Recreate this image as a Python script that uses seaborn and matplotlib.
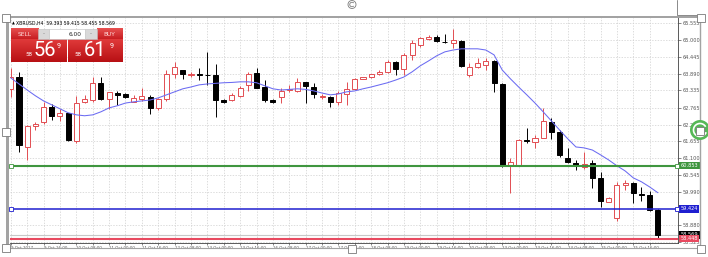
import numpy as np
import pandas as pd
import matplotlib
matplotlib.use("Agg")
import matplotlib.pyplot as plt
from matplotlib.patches import Rectangle, Circle, Arc
from matplotlib.colors import to_rgb
import matplotlib.transforms as mtransforms
import seaborn as sns

# ---------------- data ----------------
opens = [63.39, 63.79, 61.48, 62.17, 62.31, 62.79, 62.50, 62.58, 61.67, 62.97,
         63.02, 63.57, 63.06, 63.25, 63.21, 62.97, 63.06, 63.11, 62.75, 63.06,
         63.87, 64.00, 63.85, 63.88, 63.85, 63.85, 63.01, 63.02, 63.16, 63.50,
         63.92, 63.44, 63.01, 63.11, 63.34, 63.33, 63.60, 63.46, 63.12, 63.13,
         62.97, 63.22, 63.39, 63.72, 63.77, 63.88, 63.94, 64.29, 64.05, 64.51,
         64.84, 65.05, 65.09, 64.95, 64.89, 64.98, 63.85, 64.12, 64.18, 64.31,
         63.55, 60.85, 60.88, 61.70, 61.65, 61.76, 62.31, 61.96, 61.12, 60.95,
         60.82, 60.93, 60.44, 59.65, 59.12, 60.20, 60.27, 59.91, 59.87, 59.393]
highs = [64.07, 63.94, 62.20, 62.31, 62.95, 62.88, 62.73, 62.60, 63.16, 63.17,
         63.77, 63.79, 63.28, 63.32, 63.25, 63.19, 63.43, 63.19, 63.08, 64.01,
         64.29, 64.01, 63.96, 64.09, 64.62, 64.20, 63.06, 63.25, 63.49, 63.94,
         64.07, 63.68, 63.06, 63.41, 63.52, 63.74, 63.63, 63.57, 63.21, 63.16,
         63.32, 63.63, 63.76, 63.79, 63.88, 64.01, 64.34, 64.31, 64.57, 65.00,
         65.11, 65.15, 65.17, 65.19, 65.37, 65.00, 64.23, 64.40, 64.42, 64.34,
         63.57, 61.10, 61.74, 62.09, 61.85, 62.75, 62.42, 62.03, 61.43, 61.04,
         61.32, 61.04, 60.66, 59.83, 60.33, 60.38, 60.33, 60.16, 60.00, 59.415]
lows = [63.13, 61.32, 61.04, 62.03, 62.22, 62.35, 62.33, 61.67, 61.61, 62.91,
        62.97, 63.02, 62.73, 62.84, 63.08, 62.95, 62.99, 62.55, 62.69, 62.99,
        63.74, 63.72, 63.77, 63.68, 63.52, 62.47, 62.91, 62.99, 63.13, 63.32,
        63.43, 62.95, 62.91, 62.91, 63.27, 63.28, 62.91, 63.08, 63.06, 62.80,
        62.86, 62.86, 63.35, 63.72, 63.76, 63.85, 63.90, 63.85, 63.85, 64.34,
        64.78, 65.00, 64.95, 64.91, 64.73, 64.12, 63.79, 64.07, 64.01, 63.28,
        60.82, 59.94, 60.87, 61.59, 61.43, 61.75, 61.74, 61.15, 60.95, 60.71,
        60.75, 60.11, 59.50, 59.64, 59.01, 60.05, 59.61, 59.67, 59.34, 58.455]
closes = [63.79, 61.52, 62.17, 62.24, 62.78, 62.50, 62.60, 61.69, 62.91, 63.05,
          63.57, 63.05, 63.28, 63.18, 63.12, 63.10, 63.16, 62.77, 63.05, 63.87,
          64.10, 63.87, 63.89, 63.86, 63.83, 63.02, 62.96, 63.17, 63.43, 63.89,
          63.43, 63.01, 62.97, 63.32, 63.39, 63.60, 63.49, 63.21, 63.15, 62.97,
          63.25, 63.39, 63.72, 63.78, 63.88, 63.96, 64.29, 64.05, 64.51, 64.89,
          65.06, 65.09, 64.96, 64.92, 65.00, 64.14, 64.12, 64.23, 64.31, 63.57,
          60.85, 60.99, 61.70, 61.67, 61.78, 62.33, 61.98, 61.19, 60.97, 60.86,
          60.90, 60.44, 59.67, 59.80, 60.22, 60.29, 59.94, 59.88, 59.39, 58.569]
ma = [63.75, 63.55, 63.35, 63.16, 62.99, 62.86, 62.73, 62.60, 62.53, 62.50,
      62.53, 62.63, 62.76, 62.83, 62.92, 62.96, 62.99, 63.02, 63.09, 63.19,
      63.29, 63.39, 63.45, 63.52, 63.55, 63.57, 63.59, 63.60, 63.62, 63.62,
      63.59, 63.49, 63.39, 63.35, 63.37, 63.39, 63.37, 63.32, 63.25, 63.19,
      63.22, 63.29, 63.32, 63.39, 63.45, 63.52, 63.59, 63.68, 63.78, 63.95,
      64.15, 64.31, 64.48, 64.61, 64.67, 64.71, 64.71, 64.71, 64.67, 64.51,
      64.01, 63.72, 63.45, 63.19, 62.92, 62.63, 62.33, 62.03, 61.74, 61.47,
      61.44, 61.37, 61.21, 61.04, 60.85, 60.68, 60.45, 60.32, 60.15, 59.96]
price_ticks = [65.555, 65.000, 64.445, 63.890, 63.335, 62.765, 62.210,
               61.655, 61.100, 60.545, 59.990, 58.880, 58.325]
time_labels = ["9 Oct 2017", "9 Oct 16:00", "10 Oct 08:00", "11 Oct 00:00",
               "11 Oct 16:00", "12 Oct 08:00", "13 Oct 00:00", "13 Oct 16:00",
               "16 Oct 08:00", "17 Oct 00:00", "17 Oct 16:00", "18 Oct 08:00",
               "19 Oct 00:00", "19 Oct 16:00", "20 Oct 08:00", "23 Oct 00:00",
               "23 Oct 16:00", "24 Oct 08:00", "25 Oct 00:00", "25 Oct 16:00"]
level_green = 60.853
level_blue = 59.424
level_red = 58.448
last_price = 58.569
header = "XBRUSD,H4  59.393 59.415 58.455 58.569"
lot_size = "6.00"
sell_parts = ("58", "56", "9")
buy_parts = ("58", "61", "9")

# ---------------- style ----------------
sns.set_theme(style="white")
plt.rcParams["font.family"] = ["DejaVu Sans"]

W, H = 708, 257
fig = plt.figure(figsize=(W / 100, H / 100), dpi=100)
fig.patch.set_facecolor("white")

ax = fig.add_axes([10 / W, 1 - 243 / H, 668 / W, 226 / H])
ax.set_facecolor("white")

df = pd.DataFrame({"i": np.arange(len(opens)), "open": opens, "high": highs,
                   "low": lows, "close": closes, "ma": ma})
up = df["close"] >= df["open"]
red_c = "#e24d52"

# wicks
ax.vlines(df["i"][up], df["low"][up], df["high"][up], colors=red_c, lw=0.7, zorder=2)
ax.vlines(df["i"][~up], df["low"][~up], df["high"][~up], colors="black", lw=0.7, zorder=2)
# bodies
lo = np.minimum(df["open"], df["close"])
hgt = np.maximum((df["close"] - df["open"]).abs(), 0.012)
ax.bar(df["i"][up], hgt[up], bottom=lo[up], width=0.62, facecolor="white",
       edgecolor=red_c, linewidth=0.7, zorder=3)
ax.bar(df["i"][~up], hgt[~up], bottom=lo[~up], width=0.62, facecolor="black",
       edgecolor="black", linewidth=0.7, zorder=3)

# moving average
sns.lineplot(data=df, x="i", y="ma", ax=ax, color="#6b6bf2", lw=0.75, zorder=4)

# horizontal levels
ax.axhline(last_price, color="#c8c8c8", lw=0.8, zorder=1.5)
ax.axhline(level_green, color="#3f963f", lw=1.5, zorder=5)
ax.axhline(level_blue, color="#1f1fd0", lw=1.1, zorder=5)
ax.axhline(level_red, color="#e84a60", lw=1.5, zorder=5)

ax.set_xlim(-0.1, 81.46)
ax.set_ylim(58.30, 65.76)
ax.set_xlabel("")
ax.set_ylabel("")

# grid and ticks
xt = np.arange(0, 80, 2)
ax.set_xticks(xt)
ax.set_xticklabels([time_labels[k // 4] if k % 4 == 0 else "" for k in xt],
                   fontsize=2.9, color="#555555", ha="left")
ax.yaxis.tick_right()
ax.set_yticks(price_ticks)
ax.set_yticklabels([f"{v:.3f}" for v in price_ticks], fontsize=3.6, color="#555555")
ax.tick_params(axis="y", which="both", right=True, length=2, width=0.5, pad=1, colors="#555555")
ax.tick_params(axis="x", which="both", bottom=True, length=1.5, width=0.5, pad=0.6, colors="#555555")
ax.grid(True, color="#cfcfcf", linestyle=(0, (2, 2)), lw=0.5)
ax.set_axisbelow(True)
for s in ["left", "top"]:
    ax.spines[s].set_visible(False)
for s in ["right", "bottom"]:
    ax.spines[s].set_color("#404040")
    ax.spines[s].set_linewidth(0.6)

# price labels of the levels
bt = mtransforms.blended_transform_factory(ax.transAxes, ax.transData)
for val, col in [(level_green, "#3f963f"), (level_blue, "#1f1fd0"),
                 (last_price, "black"), (level_red, "#e84a60")]:
    ax.text(1.004, val, f"{val:.3f}", transform=bt, fontsize=3.6, color="white",
            va="center", ha="left", clip_on=False, zorder=7,
            bbox=dict(boxstyle="square,pad=0.25", fc=col, ec="none"))
# small end handles on selected lines
for val, col in [(level_green, "#3f963f"), (level_blue, "#1f1fd0")]:
    ax.plot([0.002, 0.999], [val, val], transform=bt, ls="none", marker="s",
            markersize=2.2, mfc="white", mec=col, mew=0.6, clip_on=False, zorder=8)

# ---------------- overlay (frame, panel, handles) ----------------
ov = fig.add_axes([0, 0, 1, 1])
ov.set_xlim(0, W)
ov.set_ylim(H, 0)
ov.axis("off")
ov.patch.set_visible(False)
ov.set_zorder(10)

frame = "#a3a3a3"
ov.add_patch(Rectangle((6, 16), 3, 232, color=frame, lw=0))
ov.add_patch(Rectangle((6, 15.8), 695, 2.4, color=frame, lw=0))
ov.plot([700, 700], [17, 248], color=frame, lw=1)
ov.plot([6, 700], [247.6, 247.6], color=frame, lw=0.8)
ov.plot([676.7, 676.7, 697], [0, 14.5, 14.5], color="#8a8a8a", lw=0.7)

# header
ov.text(11.5, 23.3, "\u25b2", fontsize=2.6, color="black", va="center", ha="left")
ov.text(16.5, 23.3, header, fontsize=3.3, color="black", va="center", ha="left")


def grad_box(x0, y0, x1, y1, c_top, c_bot):
    t = np.linspace(0, 1, 32)[:, None]
    img = (np.array(to_rgb(c_top)) * (1 - t) + np.array(to_rgb(c_bot)) * t)[:, None, :]
    ov.imshow(img, extent=(x0, x1, y1, y0), aspect="auto",
              interpolation="bilinear", zorder=5)


# one-click panel
grad_box(11, 28.7, 38.3, 39.3, "#e85050", "#c81e22")
grad_box(96.7, 28.7, 122.7, 39.3, "#e85050", "#c81e22")
grad_box(11, 39.6, 66.7, 61.7, "#e03a3a", "#b81014")
grad_box(67.7, 39.6, 122.7, 61.7, "#e03a3a", "#b81014")
ov.add_patch(Rectangle((38.3, 28.7), 10.7, 10.6, fc="#d9d9d9", ec="#bdbdbd", lw=0.4, zorder=5))
ov.add_patch(Rectangle((85, 28.7), 11.7, 10.6, fc="#d9d9d9", ec="#bdbdbd", lw=0.4, zorder=5))
ov.add_patch(Rectangle((49, 28.7), 36, 10.6, fc="white", ec="#bdbdbd", lw=0.4, zorder=5))
ov.text(43.6, 34, "-", fontsize=4, color="#777777", ha="center", va="center", zorder=6)
ov.text(90.8, 34, "-", fontsize=4, color="#777777", ha="center", va="center", zorder=6)
ov.text(82, 34, lot_size, fontsize=4.2, color="#222222", ha="right", va="center", zorder=6)
ov.text(24.5, 34, "SELL", fontsize=4.2, color="#ffd8d8", ha="center", va="center", zorder=6)
ov.text(109.7, 34, "BUY", fontsize=4.2, color="#ffd8d8", ha="center", va="center", zorder=6)
for (small, big, pip), xs, xb, xp in [(sell_parts, 29.5, 45, 58.4), (buy_parts, 78.5, 95.5, 112)]:
    ov.text(xs + 3, 56.3, small, fontsize=4.4, color="white", ha="right", va="baseline",
            family="Roboto", zorder=6)
    ov.text(xb, 56.3, big, fontsize=14.5, color="white", ha="center", va="baseline",
            family="Roboto", zorder=6)
    ov.text(xp, 46.3, pip, fontsize=5, color="white", ha="center", va="center",
            family="Roboto", zorder=6)

# green tool icon at right middle
ov.add_patch(Circle((700, 130), 10, fc="#56b856", ec="none", zorder=6))
ov.add_patch(Arc((700, 130), 13, 13, theta1=20, theta2=330, color="white", lw=1.2, zorder=7))

# selection handles
for cx, cy in [(5.5, 17.5), (701, 17.5), (5.5, 132), (700, 131),
               (5.5, 248), (352, 249), (701, 249)]:
    ov.add_patch(Rectangle((cx - 4, cy - 4), 8, 8, fc="white", ec="#7a7a7a", lw=0.6, zorder=8))
ov.add_patch(Circle((352, 4.5), 4, fc="white", ec="#7a7a7a", lw=0.6, zorder=8))
ov.add_patch(Arc((352, 4.5), 4.5, 4.5, theta1=40, theta2=320, color="#7a7a7a", lw=0.6, zorder=9))

fig.savefig("out.png", dpi=100, facecolor="white")
